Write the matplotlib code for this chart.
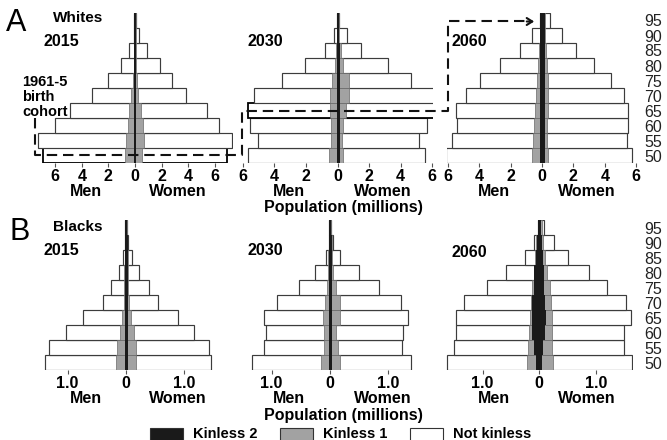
import matplotlib
matplotlib.use('Agg')
import matplotlib.pyplot as plt
from matplotlib.patches import Rectangle, FancyArrowPatch
from matplotlib.lines import Line2D
import numpy as np

plt.rcParams['font.family'] = ['Liberation Sans', 'DejaVu Sans']

# ---------------- data (millions), age groups 50 ... 95 ----------------
ages = [50, 55, 60, 65, 70, 75, 80, 85, 90, 95]
age_labels = [str(a) for a in ages]

# Whites 2015
w15_men_total = [6.94, 7.27, 6.00, 4.89, 3.21, 2.00, 1.08, 0.43, 0.10, 0.06]
w15_women_total = [6.90, 7.30, 6.34, 5.39, 3.81, 2.76, 1.88, 0.88, 0.32, 0.10]
w15_men_k1 = [0.73, 0.70, 0.55, 0.43, 0.30, 0.15, 0.10, 0.10, 0.08, 0.06]
w15_women_k1 = [0.55, 0.70, 0.58, 0.43, 0.25, 0.15, 0.10, 0.10, 0.08, 0.08]
w15_men_k2 = [0.09, 0.09, 0.09, 0.09, 0.09, 0.09, 0.09, 0.09, 0.06, 0.06]
w15_women_k2 = [0.09, 0.09, 0.09, 0.09, 0.09, 0.09, 0.09, 0.09, 0.08, 0.08]

# Whites 2030
w30_men_total = [5.68, 5.05, 5.54, 5.64, 5.26, 3.53, 2.06, 0.77, 0.20, 0.05]
w30_women_total = [5.54, 5.16, 5.64, 6.21, 6.13, 4.65, 3.18, 1.49, 0.58, 0.10]
w30_men_k1 = [0.53, 0.42, 0.44, 0.48, 0.48, 0.37, 0.17, 0.07, 0.06, 0.05]
w30_women_k1 = [0.37, 0.29, 0.37, 0.52, 0.70, 0.70, 0.37, 0.20, 0.10, 0.08]
w30_men_k2 = [0.05, 0.05, 0.05, 0.05, 0.05, 0.05, 0.05, 0.05, 0.05, 0.05]
w30_women_k2 = [0.13, 0.13, 0.13, 0.13, 0.13, 0.13, 0.13, 0.13, 0.08, 0.08]

# Whites 2060
w60_men_total = [6.11, 5.71, 5.39, 5.48, 4.84, 3.93, 2.66, 1.38, 0.62, 0.13]
w60_women_total = [5.75, 5.43, 5.50, 5.50, 5.22, 4.39, 3.29, 2.17, 1.29, 0.51]
w60_men_k1 = [0.66, 0.60, 0.54, 0.47, 0.40, 0.34, 0.27, 0.17, 0.12, 0.10]
w60_women_k1 = [0.36, 0.30, 0.30, 0.36, 0.36, 0.36, 0.33, 0.25, 0.20, 0.20]
w60_men_k2 = [0.10, 0.10, 0.10, 0.10, 0.10, 0.10, 0.10, 0.10, 0.10, 0.10]
w60_women_k2 = [0.19, 0.19, 0.19, 0.19, 0.19, 0.19, 0.19, 0.19, 0.19, 0.19]

# Blacks 2015
b15_men_total = [1.39, 1.32, 1.03, 0.73, 0.40, 0.26, 0.12, 0.046, 0.02, 0.01]
b15_women_total = [1.46, 1.42, 1.17, 0.89, 0.55, 0.40, 0.22, 0.097, 0.04, 0.015]
b15_men_k1 = [0.17, 0.15, 0.10, 0.07, 0.04, 0.03, 0.03, 0.02, 0.02, 0.01]
b15_women_k1 = [0.17, 0.17, 0.13, 0.09, 0.05, 0.04, 0.03, 0.03, 0.02, 0.015]
b15_men_k2 = [0.02, 0.02, 0.02, 0.02, 0.02, 0.02, 0.02, 0.02, 0.02, 0.01]
b15_women_k2 = [0.03, 0.03, 0.03, 0.03, 0.03, 0.03, 0.03, 0.03, 0.03, 0.015]

# Blacks 2030
b30_men_total = [1.33, 1.13, 1.10, 1.13, 0.91, 0.53, 0.26, 0.07, 0.02, 0.01]
b30_women_total = [1.39, 1.24, 1.25, 1.34, 1.21, 0.84, 0.49, 0.18, 0.06, 0.02]
b30_men_k1 = [0.16, 0.11, 0.11, 0.125, 0.09, 0.06, 0.03, 0.03, 0.02, 0.01]
b30_women_k1 = [0.18, 0.13, 0.11, 0.17, 0.17, 0.10, 0.06, 0.04, 0.03, 0.02]
b30_men_k2 = [0.02, 0.02, 0.02, 0.02, 0.02, 0.02, 0.02, 0.02, 0.02, 0.01]
b30_women_k2 = [0.03, 0.03, 0.03, 0.03, 0.03, 0.03, 0.03, 0.03, 0.03, 0.02]

# Blacks 2060
b60_men_total = [1.63, 1.50, 1.46, 1.47, 1.32, 0.92, 0.58, 0.26, 0.09, 0.02]
b60_women_total = [1.64, 1.50, 1.50, 1.61, 1.52, 1.20, 0.88, 0.51, 0.26, 0.08]
b60_men_k1 = [0.22, 0.20, 0.18, 0.16, 0.15, 0.12, 0.10, 0.07, 0.05, 0.03]
b60_women_k1 = [0.25, 0.22, 0.22, 0.22, 0.21, 0.18, 0.13, 0.10, 0.06, 0.04]
b60_men_k2 = [0.05, 0.10, 0.12, 0.12, 0.12, 0.10, 0.09, 0.06, 0.04, 0.03]
b60_women_k2 = [0.04, 0.07, 0.10, 0.12, 0.10, 0.09, 0.08, 0.06, 0.04, 0.03]

top_ticks = [-6, -4, -2, 0, 2, 4, 6]
top_ticklabels = ['6', '4', '2', '0', '2', '4', '6']
bottom_ticks = [-1, 0, 1]
bottom_ticklabels = ['1.0', '0', '1.0']

# ---------------- figure ----------------
W, H = 667, 440
fig = plt.figure(figsize=(W / 100, H / 100), dpi=100)


def fx(x):
    return x / W


def fy(y):
    return 1 - y / H


def add_axes_px(x0, ytop, w, h):
    return fig.add_axes([x0 / W, 1 - (ytop + h) / H, w / W, h / H])


EDGE = '#3c3c3c'
GRAY = '#a2a2a2'
GRAY_EDGE = '#6a6a6a'
BLACK = '#1a1a1a'


def pyramid(ax, mt, wt, m1, w1, m2, w2, xlim, ticks, ticklabels,
            highlight=None, right_labels=False, label_pad=5):
    y = np.arange(len(ages))
    lws = [1.3 if i == highlight else 0.85 for i in y]
    ecs = ['#000000' if i == highlight else EDGE for i in y]
    ax.barh(y, -np.asarray(mt), height=1.0, color='white', edgecolor=ecs, linewidth=lws)
    ax.barh(y, np.asarray(wt), height=1.0, color='white', edgecolor=ecs, linewidth=lws)
    ax.barh(y, -np.asarray(m1), height=1.0, color=GRAY, edgecolor=GRAY_EDGE, linewidth=0.5)
    ax.barh(y, np.asarray(w1), height=1.0, color=GRAY, edgecolor=GRAY_EDGE, linewidth=0.5)
    ax.barh(y, -np.asarray(m2), height=1.0, color=BLACK, edgecolor='none')
    ax.barh(y, np.asarray(w2), height=1.0, color=BLACK, edgecolor='none')
    ax.set_xlim(-xlim, xlim)
    ax.set_ylim(-0.5, len(ages) - 0.5)
    for s in ax.spines.values():
        s.set_visible(False)
    ax.set_xticks(ticks)
    ax.set_xticklabels(ticklabels, fontsize=11.5, fontweight='bold')
    ax.tick_params(axis='x', length=3, width=0.8, color='#555555', pad=1.5)
    if right_labels:
        ax.yaxis.tick_right()
        ax.set_yticks(y)
        ax.set_yticklabels(age_labels, fontsize=11.5, color='#222222')
        ax.tick_params(axis='y', length=0, pad=label_pad)
    else:
        ax.set_yticks([])


# Top row (Whites)
axA1 = add_axes_px(135 - 98.4, 13, 196.8, 150)
pyramid(axA1, w15_men_total, w15_women_total, w15_men_k1, w15_women_k1,
        w15_men_k2, w15_women_k2, 7.4, top_ticks, top_ticklabels, highlight=0)
axA2 = add_axes_px(337.5 - 95.6, 13, 191.2, 150)
pyramid(axA2, w30_men_total, w30_women_total, w30_men_k1, w30_women_k1,
        w30_men_k2, w30_women_k2, 6.05, top_ticks, top_ticklabels, highlight=3)
axA3 = add_axes_px(542 - 95, 13, 190, 150)
pyramid(axA3, w60_men_total, w60_women_total, w60_men_k1, w60_women_k1,
        w60_men_k2, w60_women_k2, 6.05, top_ticks, top_ticklabels,
        right_labels=True, label_pad=5)

# Bottom row (Blacks)
axB1 = add_axes_px(126 - 90.4, 220, 180.8, 150)
pyramid(axB1, b15_men_total, b15_women_total, b15_men_k1, b15_women_k1,
        b15_men_k2, b15_women_k2, 1.55, bottom_ticks, bottom_ticklabels)
axB2 = add_axes_px(330 - 90.4, 220, 180.8, 150)
pyramid(axB2, b30_men_total, b30_women_total, b30_men_k1, b30_women_k1,
        b30_men_k2, b30_women_k2, 1.55, bottom_ticks, bottom_ticklabels)
axB3 = add_axes_px(539.3 - 93.6, 220, 187.2, 150)
pyramid(axB3, b60_men_total, b60_women_total, b60_men_k1, b60_women_k1,
        b60_men_k2, b60_women_k2, 1.65, bottom_ticks, bottom_ticklabels,
        right_labels=True, label_pad=8)

# ---------------- texts ----------------
def ftext(x, y, s, size=11.5, weight='bold', ha='center', va='center', **kw):
    fig.text(fx(x), fy(y), s, fontsize=size, fontweight=weight, ha=ha, va=va, **kw)


ftext(16, 23, 'A', size=22, weight='normal')
ftext(20, 232, 'B', size=22, weight='normal')
ftext(53, 18, 'Whites', size=11, ha='left')
ftext(53, 227, 'Blacks', size=11, ha='left')
for (x, yv, s) in [(43, 42, '2015'), (247, 42, '2030'), (452, 42, '2060'),
                   (43, 250, '2015'), (247, 250, '2030'), (452, 252, '2060')]:
    ftext(x, yv, s, size=11.5, ha='left')

ftext(22, 82, '1961-5', size=10.5, ha='left')
ftext(22, 97, 'birth', size=10.5, ha='left')
ftext(22, 112, 'cohort', size=10.5, ha='left')

for yrow in (192, 398):
    for xm, xw in [(86, 178), (289, 383), (494, 587)]:
        ftext(xm, yrow, 'Men')
        ftext(xw, yrow, 'Women')
ftext(343, 207, 'Population (millions)')
ftext(343, 415, 'Population (millions)')

# ---------------- legend ----------------
leg_items = [(150, BLACK, 'Kinless 2'), (280, GRAY, 'Kinless 1'), (410, 'white', 'Not kinless')]
for x0, col, lab in leg_items:
    fig.add_artist(Rectangle((fx(x0), fy(441)), 33 / W, 13 / H, transform=fig.transFigure,
                             facecolor=col, edgecolor='#333333', linewidth=0.8))
    ftext(x0 + 43, 434, lab, size=10.5, ha='left')

# ---------------- cohort path ----------------
path_x = [35, 35, 241.7, 241.7, 448, 448, 528]
path_y = [118, 155, 155, 111.5, 111.5, 21.5, 21.5]
fig.add_artist(Line2D([fx(v) for v in path_x], [fy(v) for v in path_y],
                      transform=fig.transFigure, color='#111111', linewidth=1.5,
                      linestyle=(0, (5, 2.8))))
fig.add_artist(FancyArrowPatch((fx(524), fy(21.5)), (fx(537), fy(21.5)),
                               transform=fig.transFigure, arrowstyle='->,head_length=4,head_width=2.5',
                               color='#111111', linewidth=1.5, mutation_scale=1))

fig.savefig('out.png', dpi=100)
